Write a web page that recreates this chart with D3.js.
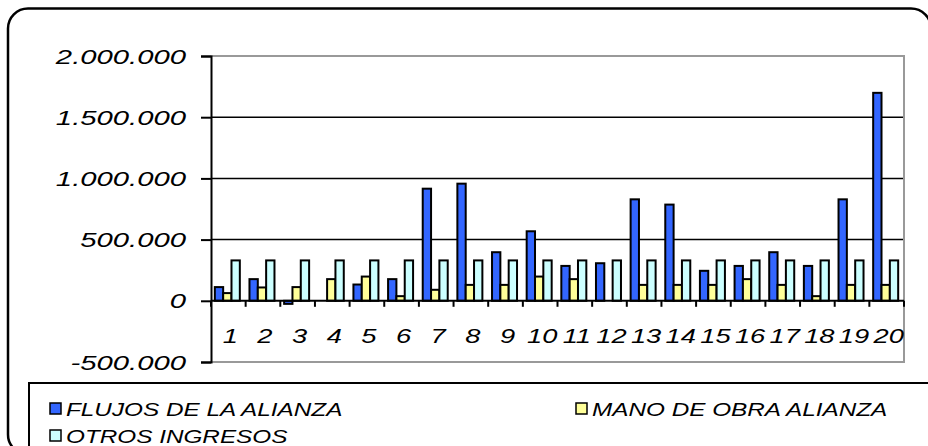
<!DOCTYPE html>
<html>
<head>
<meta charset="utf-8">
<script src="https://cdn.jsdelivr.net/npm/d3@7"></script>
<style>
  body { margin: 0; background: #fff; }
  svg { display: block; }
  text { font-family: "Liberation Sans", Arial, sans-serif; font-style: italic; fill: #000; }
</style>
</head>
<body>
<svg id="chart" width="928" height="446"></svg>
<script>
// Categories (1..20) and the three income series
const categories = ["1","2","3","4","5","6","7","8","9","10","11","12","13","14","15","16","17","18","19","20"];
const flujosAlianza = [112000, 177000, -25000, 0, 133000, 177000, 916000, 957000, 397000, 568000,
                       285000, 307000, 829000, 786000, 245000, 285000, 397000, 285000, 829000, 1699000];
const manoObraAlianza = [63000, 109000, 112000, 177000, 198000, 38000, 90000, 130000, 130000, 198000,
                         177000, 0, 130000, 130000, 130000, 177000, 130000, 38000, 130000, 130000];
const otrosIngresos = [330000, 330000, 330000, 330000, 330000, 330000, 330000, 330000, 330000, 330000,
                       330000, 330000, 330000, 330000, 330000, 330000, 330000, 330000, 330000, 330000];
const seriesNames = ["FLUJOS DE LA ALIANZA", "MANO DE OBRA ALIANZA", "OTROS INGRESOS"];
const seriesColors = ["#3366FF", "#FFFF99", "#CCFFFF"];
const yTicks = [-500000, 0, 500000, 1000000, 1500000, 2000000];

const svg = d3.select("#chart");
const plot = { left: 211, right: 904, top: 56, bottom: 362 };

const fmt = d3.formatLocale({ decimal: ",", thousands: ".", grouping: [3], currency: ["", ""], minus: "-" }).format(",");

// Widen a text element horizontally by a factor
function stretch(sel, k) {
  sel.each(function () {
    const w = this.getComputedTextLength();
    d3.select(this).attr("textLength", w * k).attr("lengthAdjust", "spacingAndGlyphs");
  });
}

// Outer chart frame with rounded corners
svg.append("rect")
  .attr("x", 8).attr("y", 8.5).attr("width", 923).attr("height", 446).attr("rx", 20)
  .attr("fill", "#fff").attr("stroke", "#000").attr("stroke-width", 2.5);

const x0 = d3.scaleBand().domain(categories).range([plot.left, plot.right]);
const groupW = 25;
const x1 = d3.scaleBand().domain([0, 1, 2])
  .range([(x0.bandwidth() - groupW) / 2 - 1, (x0.bandwidth() + groupW) / 2 - 1]);
const y = d3.scaleLinear().domain([-500000, 2000000]).range([plot.bottom, plot.top]);

// Gridlines
svg.append("g").selectAll("line")
  .data(yTicks.filter(v => v > 0 && v < 2000000))
  .join("line")
  .attr("x1", plot.left).attr("x2", plot.right)
  .attr("y1", d => y(d)).attr("y2", d => y(d))
  .attr("stroke", "#000").attr("stroke-width", 1.5);

// Plot-area border (grey) on top, right and bottom
svg.append("path")
  .attr("d", `M${plot.left},${plot.top}H${plot.right}V${plot.bottom}H${plot.left}`)
  .attr("fill", "none").attr("stroke", "#999").attr("stroke-width", 2);

// Bars
const seriesData = [flujosAlianza, manoObraAlianza, otrosIngresos];
const groups = svg.append("g").selectAll("g")
  .data(categories)
  .join("g")
  .attr("transform", d => `translate(${x0(d)},0)`);
groups.selectAll("rect")
  .data((d, i) => seriesData.map((s, k) => ({ k, v: s[i] })).filter(e => e.v !== 0))
  .join("rect")
  .attr("x", e => x1(e.k))
  .attr("width", x1.bandwidth())
  .attr("y", e => Math.min(y(e.v), y(0)))
  .attr("height", e => Math.abs(y(e.v) - y(0)))
  .attr("fill", e => seriesColors[e.k])
  .attr("stroke", "#000").attr("stroke-width", 2);

// Y axis
const yAxis = svg.append("g").attr("transform", `translate(${plot.left},0)`)
  .call(d3.axisLeft(y).tickValues(yTicks).tickFormat(fmt).tickSize(10).tickPadding(15));
yAxis.attr("font-family", null).attr("font-size", null);
yAxis.select(".domain").attr("stroke", "#000").attr("stroke-width", 2);
yAxis.selectAll(".tick line").attr("stroke", "#000").attr("stroke-width", 2);
yAxis.selectAll(".tick text")
  .attr("font-size", 19.5).attr("dy", "0.36em")
  .call(stretch, 1.5);

// X axis along zero
const xAxis = svg.append("g").attr("transform", `translate(0,${y(0)})`);
xAxis.append("line").attr("x1", plot.left).attr("x2", plot.right).attr("stroke", "#000").attr("stroke-width", 2);
xAxis.selectAll("line.tk")
  .data(categories.map(c => x0(c)).concat([plot.right]))
  .join("line").attr("class", "tk")
  .attr("x1", d => d).attr("x2", d => d)
  .attr("y1", 0).attr("y2", 6)
  .attr("stroke", "#000").attr("stroke-width", 2);
svg.append("g").selectAll("text")
  .data(categories)
  .join("text")
  .attr("x", d => x0(d) + x0.bandwidth() / 2 + 2)
  .attr("y", 343)
  .attr("text-anchor", "middle")
  .attr("font-size", 21)
  .text(d => d)
  .call(stretch, 1.3);

// Legend
const legend = svg.append("g");
legend.append("rect")
  .attr("x", 29).attr("y", 383).attr("width", 920).attr("height", 80)
  .attr("fill", "#fff").attr("stroke", "#000").attr("stroke-width", 2);
const legendPos = [{ x: 50, y: 409 }, { x: 576, y: 409 }, { x: 50, y: 436 }];
const li = legend.selectAll("g.item").data(seriesNames).join("g").attr("class", "item")
  .attr("transform", (d, i) => `translate(${legendPos[i].x},${legendPos[i].y})`);
li.append("rect").attr("x", 0).attr("y", -6).attr("width", 11).attr("height", 11)
  .attr("fill", (d, i) => seriesColors[i]).attr("stroke", "#000").attr("stroke-width", 1.5);
li.append("text").attr("x", 16).attr("y", 6.5).attr("font-size", 18).text(d => d)
  .call(stretch, 1.35);
</script>
</body>
</html>
